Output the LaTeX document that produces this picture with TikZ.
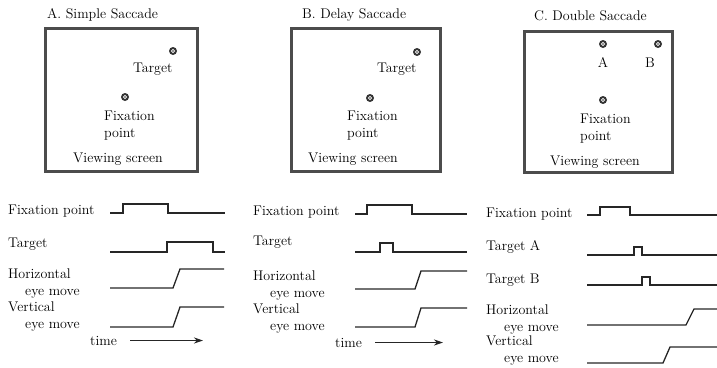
\documentclass[tikz,border=0pt]{standalone}
\usetikzlibrary{arrows.meta}
\tikzset{
  screen/.style={draw=black!70, line width=3pt},
  dot/.style={circle, fill=black!80, minimum size=8pt, inner sep=0pt,
    path picture={\draw[white, line width=0.6pt] (path picture bounding box.center) circle (1.6pt);}},
  lbl/.style={font=\fontsize{14}{17}\selectfont, inner sep=0pt, anchor=base west, align=left},
  trace/.style={draw=black!85, line width=1.3pt},
  timearrow/.style={draw=black!85, line width=1.2pt, -{Stealth[length=9pt, width=6pt]}},
}
\begin{document}
\begin{tikzpicture}[x=1pt, y=-1pt]
    \useasboundingbox (0,0) rectangle (717,367);

    % A. Simple saccade
    \node[lbl] (titleA) at (47,18) {A.\ Simple Saccade};
    \draw[screen] (45.5,28.5) rectangle (197.5,171.5);
    \node[dot] (tgtA) at (173,51) {};
    \node[lbl] (tgtAtxt) at (133,72) {Target};
    \node[dot] (fixA) at (125,97) {};
    \node[lbl] (fixAtxt) at (104,137) {Fixation\\point};
    \node[lbl] (scrA) at (73,162) {Viewing screen};

    % B. Delay saccade
    \node[lbl] (titleB) at (302,18) {B.\ Delay Saccade};
    \draw[screen] (291.5,28.5) rectangle (440.5,171.5);
    \node[dot] (tgtB) at (417,52) {};
    \node[lbl] (tgtBtxt) at (377,72) {Target};
    \node[dot] (fixB) at (370,98) {};
    \node[lbl] (fixBtxt) at (347,137) {Fixation\\point};
    \node[lbl] (scrB) at (308,162) {Viewing screen};

    % C. Double saccade
    \node[lbl] (titleC) at (534,20) {C.\ Double Saccade};
    \draw[screen] (524.5,31.5) rectangle (672.5,172.5);
    \node[dot] (tgtCa) at (603,44) {};
    \node[lbl, anchor=base] (tgtCatxt) at (603,67) {A};
    \node[dot] (tgtCb) at (658,44) {};
    \node[lbl, anchor=base] (tgtCbtxt) at (650,67) {B};
    \node[dot] (fixC) at (603,100) {};
    \node[lbl] (fixCtxt) at (580,140) {Fixation\\point};
    \node[lbl] (scrC) at (550,165) {Viewing screen};

    % A. traces
    \node[lbl] (fixAlbl) at (8,214) {Fixation point};
    \draw[trace] (110,213) -- (123,213) -- (123,204) -- (168,204) -- (168,213) -- (225,213);
    \node[lbl] (tgtAlbl) at (8,247) {Target};
    \draw[trace] (110,252) -- (167,252) -- (167,242) -- (213,242) -- (213,252) -- (225,252);
    \node[lbl] (horAlbl) at (8,295) {Horizontal\\\hspace*{17pt}eye move};
    \draw[trace] (110,288) -- (173,288) -- (180,269) -- (224,269);
    \node[lbl] (verAlbl) at (8,328) {Vertical\\\hspace*{17pt}eye move};
    \draw[trace] (110,327) -- (173,327) -- (180,307) -- (224,307);
    \node[lbl] (timeA) at (90,345) {time};
    \coordinate (timeAend) at (203,342);
    \draw[timearrow] ([xshift=13pt]timeA.east) -- (timeAend |- timeA.east);

    % B. traces
    \node[lbl] (fixBlbl) at (253,215) {Fixation point};
    \draw[trace] (355,214) -- (367,214) -- (367,205) -- (412,205) -- (412,214) -- (467,214);
    \node[lbl] (tgtBlbl) at (253,245) {Target};
    \draw[trace] (355,252) -- (380,252) -- (380,243) -- (393,243) -- (393,252) -- (467,252);
    \node[lbl] (horBlbl) at (253,297) {Horizontal\\\hspace*{17pt}eye move};
    \draw[trace] (355,289) -- (415,289) -- (421,271) -- (467,271);
    \node[lbl] (verBlbl) at (253,330) {Vertical\\\hspace*{17pt}eye move};
    \draw[trace] (355,327) -- (415,327) -- (421,308) -- (467,308);
    \node[lbl] (timeB) at (335,347) {time};
    \coordinate (timeBend) at (443,344);
    \draw[timearrow] ([xshift=13pt]timeB.east) -- (timeBend |- timeB.east);

    % C. traces
    \node[lbl] (fixClbl) at (486,217) {Fixation point};
    \draw[trace] (587,215) -- (600,215) -- (600,207) -- (630,207) -- (630,215) -- (717,215);
    \node[lbl] (tgtCalbl) at (486,250) {Target A};
    \draw[trace] (587,255) -- (634,255) -- (634,247) -- (642,247) -- (642,255) -- (717,255);
    \node[lbl] (tgtCblbl) at (486,283) {Target B};
    \draw[trace] (587,285) -- (642,285) -- (642,277) -- (650,277) -- (650,285) -- (717,285);
    \node[lbl] (horClbl) at (486,331) {Horizontal\\\hspace*{18pt}eye move};
    \draw[trace] (587,325) -- (686,325) -- (694,309) -- (717,309);
    \node[lbl] (verClbl) at (486,362) {Vertical\\\hspace*{18pt}eye move};
    \draw[trace] (587,363) -- (663,363) -- (670,347) -- (717,347);
\end{tikzpicture}
\end{document}
